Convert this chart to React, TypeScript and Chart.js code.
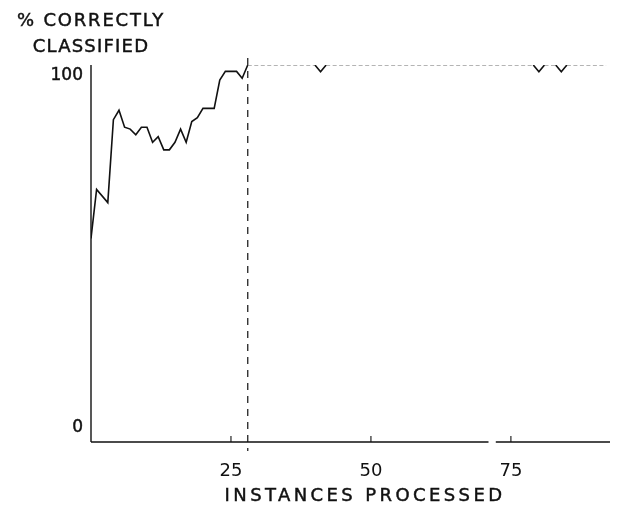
import React, { useEffect, useRef } from "react";
import { Chart, registerables } from "chart.js";

Chart.register(...registerables);

// ---- data ----
const instances = [0, 1, 3, 4, 5, 6, 7, 8, 9, 10, 11, 12, 13, 14, 15, 16, 17, 18, 19, 20, 22, 23, 24, 26, 27, 28, 40, 41, 42, 79, 80, 81, 83, 84, 85, 92];
const pctCorrect = [54, 67, 63.5, 85.5, 88, 83.5, 83, 81.5, 83.5, 83.5, 79.5, 81, 77.5, 77.5, 79.5, 83, 79.5, 85, 86, 88.5, 88.5, 96, 98.3, 98.3, 96.5, 100, 100, 98.2, 100, 100, 98.2, 100, 100, 98.2, 100, 100];
const xTicks = [25, 50, 75];
const yTicks = [0, 100];
const yTickLabels = ["0", "100"];
const conceptChangeAt = 28;
const xTitle = "INSTANCES PROCESSED";
const yTitle = ["% CORRECTLY", "CLASSIFIED"];
const axisBreak = [71, 72.3];

const FONT = "'DejaVu Sans', sans-serif";
const INK = "#111111";

function inkText(ctx: any, s: string, x: number, y: number) {
  ctx.fillText(s, x, y);
  ctx.strokeText(s, x, y);
}

const decor = {
  id: "decor",
  afterDatasetsDraw(chart: any) {
    const { ctx, chartArea: a, scales } = chart;
    const x = scales.x;
    const y = scales.y;
    ctx.save();
    ctx.strokeStyle = INK;
    ctx.lineWidth = 1.4;
    ctx.setLineDash([]);
    // y axis line
    ctx.beginPath();
    ctx.moveTo(a.left, a.top);
    ctx.lineTo(a.left, a.bottom);
    ctx.stroke();
    // x axis line (with the small break seen in the reference)
    ctx.beginPath();
    ctx.moveTo(a.left, a.bottom);
    ctx.lineTo(x.getPixelForValue(axisBreak[0]), a.bottom);
    ctx.moveTo(x.getPixelForValue(axisBreak[1]), a.bottom);
    ctx.lineTo(a.right, a.bottom);
    ctx.stroke();
    // inward tick marks
    ctx.lineWidth = 1.1;
    xTicks.forEach((v) => {
      const px = x.getPixelForValue(v);
      ctx.beginPath();
      ctx.moveTo(px, a.bottom);
      ctx.lineTo(px, a.bottom - 6);
      ctx.stroke();
    });
    // dashed concept-change line
    const cx = x.getPixelForValue(conceptChangeAt);
    ctx.setLineDash([7, 6]);
    ctx.lineWidth = 1.2;
    ctx.beginPath();
    ctx.moveTo(cx, a.top - 7);
    ctx.lineTo(cx, a.bottom + 9);
    ctx.stroke();
    ctx.setLineDash([]);

    // y tick labels
    ctx.fillStyle = INK;
    ctx.lineWidth = 0.45;
    ctx.font = `17px ${FONT}`;
    ctx.textAlign = "right";
    ctx.textBaseline = "middle";
    yTicks.forEach((v, i) => {
      const py = y.getPixelForValue(v);
      const off = v === 0 ? -14 : 11;
      inkText(ctx, yTickLabels[i], a.left - 8, py + off);
    });

    // y title (top-left, centered on the y axis)
    ctx.textAlign = "center";
    ctx.font = `18px ${FONT}`;
    (ctx as any).letterSpacing = "1.8px";
    inkText(ctx, yTitle[0], a.left, 21);
    (ctx as any).letterSpacing = "1.2px";
    inkText(ctx, yTitle[1], a.left, 47);

    // x title
    (ctx as any).letterSpacing = "3.4px";
    inkText(ctx, xTitle, 365, 496);
    (ctx as any).letterSpacing = "0px";
    ctx.restore();
  },
};

export default function App() {
  const ref = useRef<HTMLCanvasElement | null>(null);
  useEffect(() => {
    document.body.style.margin = "0";
    const canvas = ref.current;
    if (!canvas) return;
    const flatAfterChange = (c: any) =>
      c.p0.parsed.x >= conceptChangeAt && c.p0.parsed.y === c.p1.parsed.y;
    const chart = new Chart(canvas, {
      type: "line",
      data: {
        datasets: [
          {
            label: "% correctly classified",
            data: instances.map((v, i) => ({ x: v, y: pctCorrect[i] })),
            borderColor: INK,
            borderWidth: 1.6,
            pointRadius: 0,
            tension: 0,
            fill: false,
            segment: {
              borderColor: (c: any) => (flatAfterChange(c) ? "#6a6a6a" : undefined),
              borderDash: (c: any) => (flatAfterChange(c) ? [4, 2.5] : undefined),
              borderWidth: (c: any) => (flatAfterChange(c) ? 1.1 : undefined),
            },
          },
        ],
      },
      plugins: [decor],
      options: {
        animation: false,
        responsive: true,
        maintainAspectRatio: false,
        layout: { padding: { left: 91, top: 65, right: 9, bottom: 26 } },
        plugins: {
          legend: { display: false },
          tooltip: { enabled: false },
          title: { display: false },
        },
        scales: {
          x: {
            type: "linear",
            min: 0,
            max: 92.7,
            grid: { display: false, drawTicks: false },
            border: { display: false },
            ticks: {
              font: { family: FONT, size: 18 },
              color: INK,
              padding: 19,
              maxRotation: 0,
              autoSkip: false,
            },
            afterBuildTicks: (s: any) => {
              s.ticks = xTicks.map((v) => ({ value: v }));
            },
            afterFit: (s: any) => {
              s.height = 40;
            },
          },
          y: {
            type: "linear",
            min: 0,
            max: 100,
            display: false,
          },
        },
      },
    });
    return () => chart.destroy();
  }, []);
  return (
    <div style={{ position: "relative", width: "619px", height: "508px" }}>
      <canvas ref={ref} />
    </div>
  );
}
